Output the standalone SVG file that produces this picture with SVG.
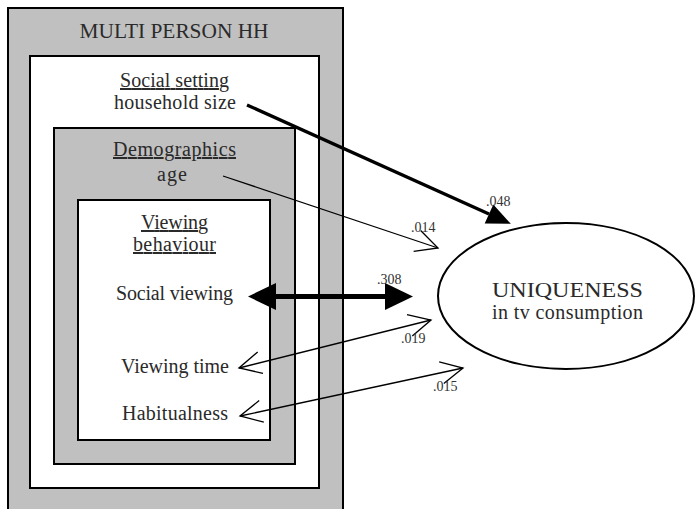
<svg xmlns="http://www.w3.org/2000/svg" width="696" height="509" viewBox="0 0 696 509">
  <defs>
    <style>
      .box-grey { fill: #c0c0c0; stroke: #000; stroke-width: 2; }
      .box-white { fill: #fff; stroke: #000; stroke-width: 2; }
      .t { font-family: "Liberation Serif", "Times New Roman", serif; font-size: 20px; fill: #2a2a2a; text-anchor: middle; }
      .caps { font-size: 21px; }
      .u { text-decoration: underline; }
      .coef { font-family: "Liberation Serif", "Times New Roman", serif; font-size: 14px; fill: #333; }
      .thin { stroke: #000; stroke-width: 1.3; fill: none; }
      .thick { stroke: #000; stroke-width: 3.3; fill: none; }
      .heavy { stroke: #000; stroke-width: 5; fill: none; }
    </style>
    <!-- open V-shaped head, tip at the line end -->
    <marker id="openHead" markerUnits="userSpaceOnUse" orient="auto-start-reverse" refX="0" refY="0" markerWidth="30" markerHeight="30" overflow="visible">
      <path d="M -22,-11 L 0,0 L -22,11" fill="none" stroke="#000" stroke-width="1.3"/>
    </marker>
    <!-- filled heads, base at the line end -->
    <marker id="solidBig" markerUnits="userSpaceOnUse" orient="auto-start-reverse" refX="0" refY="0" markerWidth="30" markerHeight="30" overflow="visible">
      <polygon points="28,0 0,-13.5 0,13.5" fill="#000"/>
    </marker>
    <marker id="solidMid" markerUnits="userSpaceOnUse" orient="auto-start-reverse" refX="0" refY="0" markerWidth="30" markerHeight="30" overflow="visible">
      <polygon points="24,0 0,-10.5 0,10.5" fill="#000"/>
    </marker>
  </defs>

  <rect width="696" height="509" fill="#fff"/>

  <g id="multi-person-hh">
    <rect class="box-grey" x="8" y="8" width="335" height="512"/>
    <text class="t caps" x="174" y="38" textLength="189" lengthAdjust="spacingAndGlyphs">MULTI PERSON HH</text>
  </g>

  <g id="social-setting">
    <rect class="box-white" x="30" y="56" width="289" height="432"/>
    <text class="t u" x="174.5" y="87" textLength="109">Social setting</text>
    <text class="t" x="175" y="109" textLength="122">household size</text>
  </g>

  <g id="demographics">
    <rect class="box-grey" x="54" y="128" width="241" height="336"/>
    <text class="t u" x="174.5" y="156" textLength="123">Demographics</text>
    <text class="t" x="172" y="181" textLength="30">age</text>
  </g>

  <g id="viewing-behaviour">
    <rect class="box-white" x="78" y="200" width="192" height="240"/>
    <text class="t u" x="174.5" y="229" textLength="67">Viewing</text>
    <text class="t u" x="174.5" y="251" textLength="83">behaviour</text>
    <text class="t" x="174.5" y="300" textLength="117">Social viewing</text>
    <text class="t" x="175" y="373" textLength="108">Viewing time</text>
    <text class="t" x="175" y="420" textLength="106">Habitualness</text>
  </g>

  <g id="uniqueness">
    <ellipse cx="566" cy="296" rx="128" ry="73" fill="#fff" stroke="#000" stroke-width="2"/>
    <text class="t caps" x="567.5" y="297" textLength="151" lengthAdjust="spacingAndGlyphs">UNIQUENESS</text>
    <text class="t" x="567.5" y="319" textLength="151">in tv consumption</text>
  </g>

  <g id="connectors">
    <line class="thick" x1="247" y1="105" x2="489" y2="214" marker-end="url(#solidMid)"/>
    <line class="thin" x1="223" y1="176" x2="438" y2="248" marker-end="url(#openHead)"/>
    <line class="heavy" x1="276" y1="296.5" x2="385" y2="296.5" marker-start="url(#solidBig)" marker-end="url(#solidBig)"/>
    <line class="thin" x1="239" y1="368" x2="431" y2="320" marker-start="url(#openHead)" marker-end="url(#openHead)"/>
    <line class="thin" x1="240" y1="416" x2="463" y2="368" marker-start="url(#openHead)" marker-end="url(#openHead)"/>

    <text class="coef" x="486" y="206">.048</text>
    <text class="coef" x="411" y="232">.014</text>
    <text class="coef" x="377" y="284">.308</text>
    <text class="coef" x="401" y="343">.019</text>
    <text class="coef" x="433" y="391">.015</text>
  </g>
</svg>
